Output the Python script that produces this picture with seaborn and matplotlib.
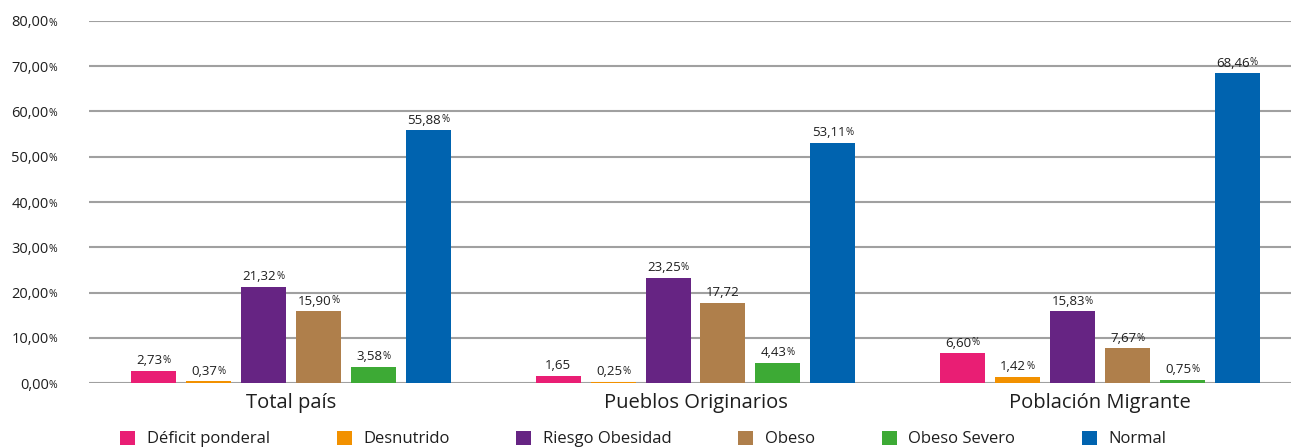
import matplotlib
matplotlib.use("Agg")
import matplotlib.pyplot as plt
import seaborn as sns
import pandas as pd

categories = ["Total país", "Pueblos Originarios", "Población Migrante"]
series = ["Déficit ponderal", "Desnutrido", "Riesgo Obesidad", "Obeso", "Obeso Severo", "Normal"]
deficit = [2.73, 1.65, 6.60]
desnutrido = [0.37, 0.25, 1.42]
riesgo = [21.32, 23.25, 15.83]
obeso = [15.90, 17.72, 7.67]
severo = [3.58, 4.43, 0.75]
normal = [55.88, 53.11, 68.46]
# label text per series / category (True => show small % sign)
label_pct = {
    "Déficit ponderal": [True, False, True],
    "Desnutrido": [True, True, True],
    "Riesgo Obesidad": [True, True, True],
    "Obeso": [True, False, True],
    "Obeso Severo": [True, True, True],
    "Normal": [True, True, True],
}
yticks = [0, 10, 20, 30, 40, 50, 60, 70, 80]
colors = ["#E91E74", "#F29100", "#662483", "#AF7F4B", "#3DAA35", "#0063AF"]

values = [deficit, desnutrido, riesgo, obeso, severo, normal]
rows = []
for s, vals in zip(series, values):
    for c, v in zip(categories, vals):
        rows.append({"cat": c, "serie": s, "val": v})
df = pd.DataFrame(rows)

sns.set_theme(style="white")
FONT = ["Open Sans", "DejaVu Sans"]
plt.rcParams["font.family"] = FONT
TXT = "#1e1e1e"

fig = plt.figure(figsize=(12.91, 4.48), dpi=100)
ax = fig.add_axes([89 / 1291, 1 - 383 / 448, 1213 / 1291, (383 - 21) / 448])

sns.barplot(data=df, x="cat", y="val", hue="serie", order=categories,
            hue_order=series, palette=colors, dodge=True, width=0.815, gap=0.18,
            saturation=1, ax=ax, legend=True, errorbar=None, linewidth=0)

ax.set_ylim(0, 80)
ax.set_xlim(-0.5, 2.5)
ax.set_yticks(yticks)
ax.yaxis.grid(True, color="#A0A0A0", linewidth=1.5)
ax.set_axisbelow(True)
for sp in ax.spines.values():
    sp.set_visible(False)
ax.set_xlabel("")
ax.set_ylabel("")
ax.tick_params(axis="x", length=0, pad=7, labelsize=14.5, labelcolor=TXT)
ax.tick_params(axis="y", length=0, pad=29, labelsize=10.5, labelcolor=TXT)
ax.set_yticklabels([f"{t:.2f}".replace(".", ",") for t in yticks])

fig.canvas.draw()
for lab in ax.get_yticklabels():
    ax.annotate("%", xy=(1, 0.12), xycoords=lab, fontsize=7.5, color=TXT,
                ha="left", va="bottom", annotation_clip=False)

# bar labels
for s, cont in zip(series, ax.containers):
    for i, p in enumerate(cont.patches):
        x = p.get_x() + p.get_width() / 2
        h = p.get_height()
        txt = f"{h:.2f}".replace(".", ",")
        pct = label_pct[s][i]
        t = ax.annotate(txt, xy=(x, h), xytext=(-3 if pct else 0, 2.5),
                        textcoords="offset points", ha="center", va="bottom",
                        fontsize=9.5, color=TXT)
        if pct:
            fig.canvas.draw()
            ax.annotate("%", xy=(1, 0.1), xycoords=t, fontsize=7,
                        color=TXT, ha="left", va="bottom")

handles, labels = ax.get_legend_handles_labels()
ax.legend(handles, labels, ncol=6, loc="center", bbox_to_anchor=(0.457, -0.155),
          frameon=False, fontsize=12, handlelength=0.9, handleheight=0.9,
          handletextpad=0.7, columnspacing=4.0, borderaxespad=0, labelcolor=TXT)

fig.savefig("out.png", dpi=100)
